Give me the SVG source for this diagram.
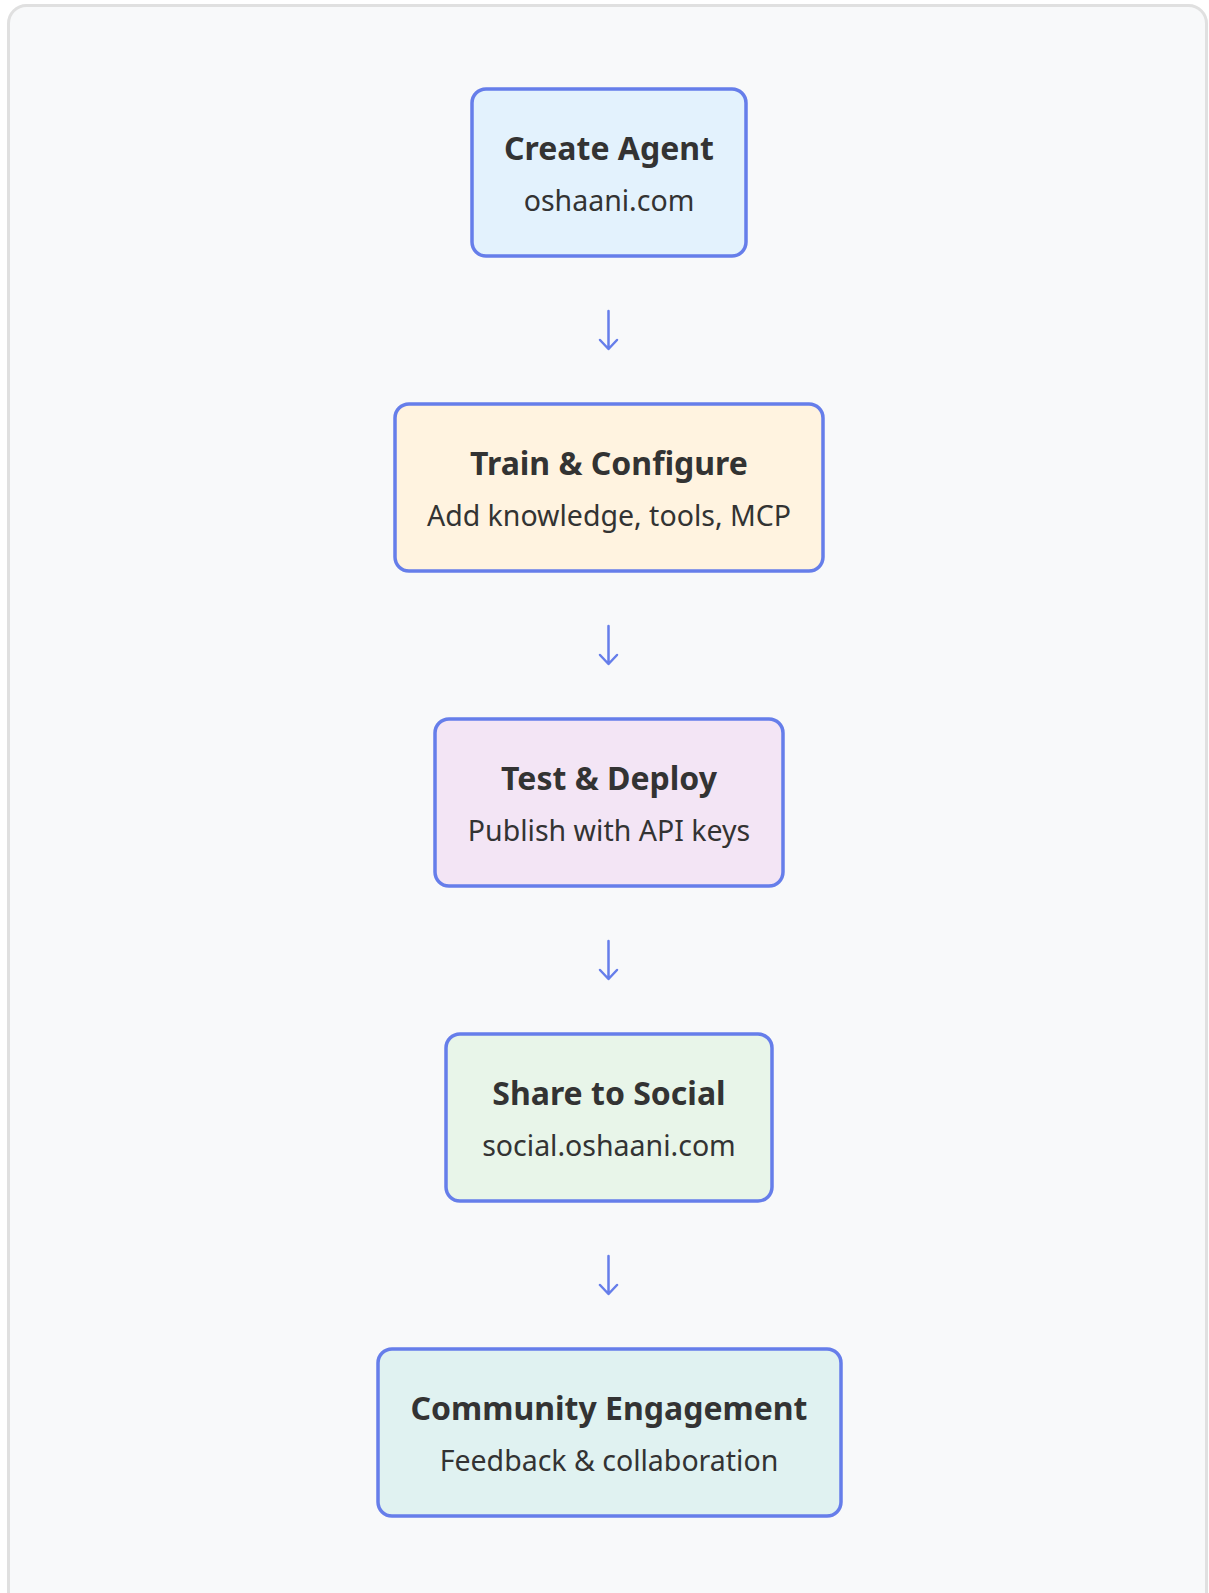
<svg xmlns="http://www.w3.org/2000/svg" width="1209" height="1593" viewBox="0 0 1209 1593">
<defs>
<style>
.bg{fill:#f8f9fa;stroke:#e0e0e0;stroke-width:3}
.box{stroke:#667eea;stroke-width:3.5}
.t{font-family:"Noto Sans","Open Sans",sans-serif;font-size:32px;font-weight:700;fill:#333;text-anchor:middle}
.s{font-family:"Noto Sans","Open Sans",sans-serif;font-size:28.5px;fill:#333;text-anchor:middle}
.arr{stroke:#667eea;stroke-width:2.5;fill:none;stroke-linecap:round;stroke-linejoin:round}
</style>
</defs>
<rect class="bg" x="8.5" y="5.5" width="1198" height="1610" rx="18"/>
<g id="n1"><rect class="box" x="472" y="89" width="274" height="167" rx="14" fill="#e3f2fd"/><text class="t" x="609" y="160">Create Agent</text><text class="s" x="609" y="211">oshaani.com</text></g>
<g id="n2"><rect class="box" x="395" y="404" width="428" height="167" rx="14" fill="#fff3e0"/><text class="t" x="609" y="475">Train &amp; Configure</text><text class="s" x="609" y="526">Add knowledge, tools, MCP</text></g>
<g id="n3"><rect class="box" x="435" y="719" width="348" height="167" rx="14" fill="#f3e5f5"/><text class="t" x="609" y="790">Test &amp; Deploy</text><text class="s" x="609" y="841">Publish with API keys</text></g>
<g id="n4"><rect class="box" x="446" y="1034" width="326" height="167" rx="14" fill="#e8f5e9"/><text class="t" x="609" y="1105">Share to Social</text><text class="s" x="609" y="1156">social.oshaani.com</text></g>
<g id="n5"><rect class="box" x="378" y="1349" width="463" height="167" rx="14" fill="#e0f2f1"/><text class="t" x="609" y="1420">Community Engagement</text><text class="s" x="609" y="1471">Feedback &amp; collaboration</text></g>
<g id="connectors">
<path class="arr" d="M608.5 311V348M600 340L608.5 349L617 340"/>
<path class="arr" d="M608.5 626V663M600 655L608.5 664L617 655"/>
<path class="arr" d="M608.5 941V978M600 970L608.5 979L617 970"/>
<path class="arr" d="M608.5 1256V1293M600 1285L608.5 1294L617 1285"/>
</g>
</svg>
